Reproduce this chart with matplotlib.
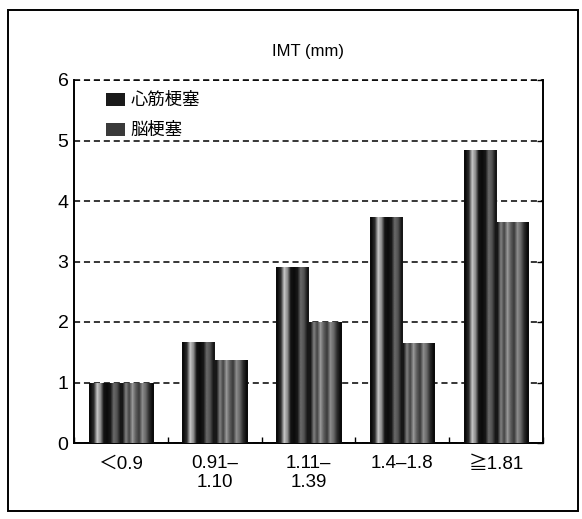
import numpy as np
import matplotlib
matplotlib.use("Agg")
import matplotlib.pyplot as plt
from matplotlib.patches import Rectangle

plt.rcParams["font.family"] = ["Liberation Sans", "Noto Sans CJK JP", "DejaVu Sans"]

categories = ["＜0.9", "0.91–\n1.10", "1.11–\n1.39", "1.4–1.8", "≧1.81"]
series_names = ["心筋梗塞", "脳梗塞"]
mi_values = [1.0, 1.67, 2.91, 3.73, 4.84]
stroke_values = [1.0, 1.37, 2.0, 1.65, 3.65]
y_ticks = [0, 1, 2, 3, 4, 5, 6]

# horizontal shading profiles that imitate the scanned print texture
mi_profile = np.array([0.05, 0.2, 0.85, 0.6, 0.08, 0.05, 0.1, 0.45, 0.35, 0.1])
stroke_profile = np.array([0.1, 0.55, 0.3, 0.65, 0.4, 0.25, 0.6, 0.45, 0.2, 0.05])

fig = plt.figure(figsize=(5.82, 5.19), dpi=100)
ax = fig.add_axes([74 / 582, 76 / 519, 469 / 582, 363 / 519])

x = np.arange(len(categories))
width = 0.345


def textured_bars(xpos, values, profile):
    bars = ax.bar(xpos, values, width, color="#222222", edgecolor="none", zorder=2)
    cmap = plt.get_cmap("gray")
    for b in bars:
        x0, y0 = b.get_x(), b.get_y()
        w, h = b.get_width(), b.get_height()
        im = ax.imshow(profile[np.newaxis, :], cmap=cmap, vmin=0, vmax=1.1,
                       extent=(x0, x0 + w, y0, y0 + h), aspect="auto",
                       interpolation="bilinear", zorder=3)
        im.set_clip_path(b)
    return bars


textured_bars(x - width / 2, mi_values, mi_profile)
textured_bars(x + width / 2, stroke_values, stroke_profile)

ax.set_xlim(-0.5, len(categories) - 0.5)
ax.set_ylim(0, 6)
ax.set_yticks(y_ticks)
ax.set_yticklabels([str(t) for t in y_ticks], fontsize=14)
ax.set_xticks(x)
ax.set_xticklabels(categories, fontsize=13.5, linespacing=1.12)
ax.set_xticks(np.arange(len(categories) + 1) - 0.5, minor=True)
ax.tick_params(axis="x", which="major", length=0, pad=9)
ax.tick_params(axis="x", which="minor", direction="in", length=4, width=1)
ax.tick_params(axis="y", left=False, right=True, direction="in", length=4, width=1, pad=4)
ax.tick_params(axis="y", labelleft=True, labelright=False)

ax.set_axisbelow(True)
ax.yaxis.grid(True, color="black", linestyle=(0, (4, 2.5)), linewidth=1.1)
ax.spines["top"].set_visible(False)
for s in ("left", "right", "bottom"):
    ax.spines[s].set_linewidth(1.4)
ax.axhline(6, color="black", linestyle=(0, (4, 2.5)), linewidth=1.1, clip_on=False)

ax.set_title("IMT (mm)", fontsize=12, pad=17)

# legend drawn with plain square handles
handles = [Rectangle((0, 0), 1, 1, facecolor="#1a1a1a", edgecolor="none"),
           Rectangle((0, 0), 1, 1, facecolor="#3a3a3a", edgecolor="none")]
leg = ax.legend(handles, series_names, loc="upper left", bbox_to_anchor=(0.035, 1.012),
                frameon=False, handlelength=1.1, handleheight=0.8,
                handletextpad=0.3, labelspacing=0.7,
                prop={"family": ["Noto Sans CJK JP"], "size": 12.5})

# outer frame around the whole figure
fig.patches.append(Rectangle((8 / 582, 8 / 519), 570 / 582, 501 / 519,
                             transform=fig.transFigure, fill=False,
                             edgecolor="black", linewidth=1.4))

fig.savefig("out.png", dpi=100)
